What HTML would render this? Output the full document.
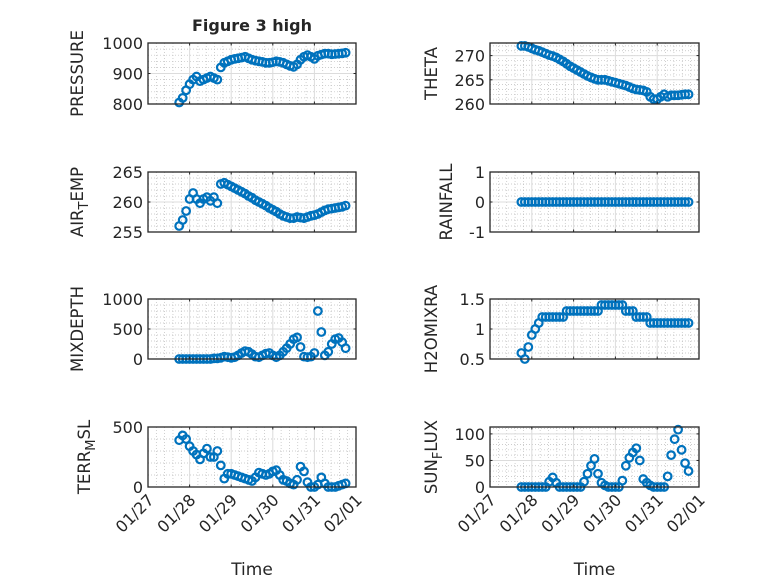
<!DOCTYPE html>
<html><head><meta charset="utf-8"><style>
html,body{margin:0;padding:0;background:#fff;width:778px;height:583px;overflow:hidden}
svg text{font-family:"DejaVu Sans","Liberation Sans",sans-serif;fill:#262626}
</style></head><body>
<svg id="fig" width="778" height="583" viewBox="0 0 778 583" xmlns="http://www.w3.org/2000/svg">
<rect width="778" height="583" fill="#fff"/>
<text x="252" y="31" text-anchor="middle" font-size="16" font-weight="bold">Figure 3 high</text>
</svg>
<script>
const xTickLabels=["01/27","01/28","01/29","01/30","01/31","02/01"];
const tStart=0.75, tStep=1/12;
const pressure=[805,820,845,865,880,890,875,880,885,890,885,880,920,935,940,945,948,950,952,955,950,945,942,940,938,935,935,937,940,938,935,930,925,922,930,945,955,960,955,948,958,962,965,965,963,964,965,966,968];
const theta=[272,272,271.8,271.5,271.2,271,270.7,270.4,270.1,269.9,269.6,269.2,268.8,268.3,267.8,267.4,267,266.6,266.2,265.8,265.5,265.2,265,265,265,264.8,264.6,264.4,264.2,264,263.8,263.5,263.2,263,262.9,262.8,262.5,261.5,261,261,261.5,262,261.5,261.8,261.8,261.8,261.9,262,262];
const airTemp=[256,257,258.5,260.5,261.5,260.5,259.8,260.5,260.8,260.2,260.8,259.8,263,263.2,262.9,262.6,262.3,262,261.7,261.4,261,260.7,260.3,260,259.7,259.4,259,258.7,258.4,258,257.7,257.5,257.3,257.3,257.5,257.4,257.3,257.5,257.7,257.8,258,258.3,258.6,258.8,258.9,259,259.1,259.2,259.4];
const rainfall=[0,0,0,0,0,0,0,0,0,0,0,0,0,0,0,0,0,0,0,0,0,0,0,0,0,0,0,0,0,0,0,0,0,0,0,0,0,0,0,0,0,0,0,0,0,0,0,0,0];
const mixDepth=[0,0,0,0,0,0,0,0,0,0,10,10,20,40,30,20,30,60,100,130,120,80,40,30,60,90,100,60,30,60,120,180,250,330,360,200,40,30,40,100,800,450,60,120,250,330,350,280,180];
const h2oMix=[0.6,0.5,0.7,0.9,1.0,1.1,1.2,1.2,1.2,1.2,1.2,1.2,1.2,1.3,1.3,1.3,1.3,1.3,1.3,1.3,1.3,1.3,1.3,1.4,1.4,1.4,1.4,1.4,1.4,1.4,1.3,1.3,1.3,1.2,1.2,1.2,1.2,1.1,1.1,1.1,1.1,1.1,1.1,1.1,1.1,1.1,1.1,1.1,1.1];
const terrMsl=[390,430,400,340,300,270,230,280,320,250,250,300,180,70,110,110,100,90,80,70,60,50,80,120,110,100,110,130,140,100,60,50,30,20,60,170,130,40,0,0,20,80,30,0,0,0,10,20,30];
const sunFlux=[0,0,0,0,0,0,0,0,10,18,8,0,0,0,0,0,0,0,10,25,40,53,25,8,3,0,0,0,0,12,40,55,65,73,50,15,8,3,0,0,0,0,20,60,90,108,70,45,30];

const NS="http://www.w3.org/2000/svg";
const svg=document.getElementById('fig');
function el(tag,attrs,parent){const e=document.createElementNS(NS,tag);for(const k in attrs)e.setAttribute(k,attrs[k]);(parent||svg).appendChild(e);return e;}

const panels=[
 {name:"pressure",data:pressure,x0:148,x1:356,y0:43,y1:104,ymin:800,ymax:1000,ticks:[800,900,1000],labels:["800","900","1000"],lab:["PRESSURE"],lx:83,bottom:false},
 {name:"theta",data:theta,x0:490,x1:699,y0:43,y1:104,ymin:260,ymax:272.6,ticks:[260,265,270],labels:["260","265","270"],lab:["THETA"],lx:437,bottom:false},
 {name:"air-temp",data:airTemp,x0:148,x1:356,y0:172,y1:232,ymin:255,ymax:265,ticks:[255,260,265],labels:["255","260","265"],lab:["AIR","T","EMP"],lx:83,bottom:false},
 {name:"rainfall",data:rainfall,x0:490,x1:699,y0:172,y1:232,ymin:-1,ymax:1,ticks:[-1,0,1],labels:["-1","0","1"],lab:["RAINFALL"],lx:452,bottom:false},
 {name:"mix-depth",data:mixDepth,x0:148,x1:356,y0:299,y1:359,ymin:0,ymax:1000,ticks:[0,500,1000],labels:["0","500","1000"],lab:["MIXDEPTH"],lx:83,bottom:false},
 {name:"h2o-mix",data:h2oMix,x0:490,x1:699,y0:299,y1:359,ymin:0.5,ymax:1.5,ticks:[0.5,1,1.5],labels:["0.5","1","1.5"],lab:["H2OMIXRA"],lx:437,bottom:false},
 {name:"terr-msl",data:terrMsl,x0:148,x1:356,y0:427,y1:487,ymin:0,ymax:500,ticks:[0,500],labels:["0","500"],lab:["TERR","M","SL"],lx:90,bottom:true},
 {name:"sun-flux",data:sunFlux,x0:490,x1:699,y0:427,y1:487,ymin:0,ymax:113,ticks:[0,50,100],labels:["0","50","100"],lab:["SUN","F","LUX"],lx:437,bottom:true}
];

panels.forEach(p=>{
 const g=el('g',{});
 
 
 const xs=d=>p.x0+(d/5)*(p.x1-p.x0);
 const ys=v=>p.y1-(v-p.ymin)/(p.ymax-p.ymin)*(p.y1-p.y0);
 for(let d=0;d<5;d+=0.2){if(Math.abs(d-Math.round(d))<1e-6)continue;const x=xs(d);el('line',{x1:x,x2:x,y1:p.y0,y2:p.y1,stroke:'#bdbdbd','stroke-width':0.7,'stroke-dasharray':'1,2'},g);}
 const step=p.ticks[1]-p.ticks[0];
 for(let v=p.ticks[0]-step;v<=p.ymax;v+=step/5){if(v<p.ymin+1e-9)continue;const y=ys(v);el('line',{x1:p.x0,x2:p.x1,y1:y,y2:y,stroke:'#bdbdbd','stroke-width':0.7,'stroke-dasharray':'1,2'},g);}
 for(let d=1;d<5;d++){const x=xs(d);el('line',{x1:x,x2:x,y1:p.y0,y2:p.y1,stroke:'#dcdcdc','stroke-width':1},g);}
 p.ticks.forEach(v=>{const y=ys(v);el('line',{x1:p.x0,x2:p.x1,y1:y,y2:y,stroke:'#dcdcdc','stroke-width':1},g);});
 p.data.forEach((v,i)=>{const c=el('circle',{cx:xs(tStart+i*tStep),cy:ys(v),r:3.8,fill:'none',stroke:'#0072BD','stroke-width':2.2},g);
  
  });
 el('rect',{x:p.x0,y:p.y0,width:p.x1-p.x0,height:p.y1-p.y0,fill:'none',stroke:'#262626','stroke-width':1.3},g);
 for(let d=0;d<=5;d++){const x=xs(d);el('line',{x1:x,x2:x,y1:p.y1,y2:p.y1-2.5,stroke:'#262626'},g);el('line',{x1:x,x2:x,y1:p.y0,y2:p.y0+2.5,stroke:'#262626'},g);}
 p.ticks.forEach((v,i)=>{const y=ys(v);el('line',{x1:p.x0,x2:p.x0+2.5,y1:y,y2:y,stroke:'#262626'},g);el('line',{x1:p.x1,x2:p.x1-2.5,y1:y,y2:y,stroke:'#262626'},g);
  const t=el('text',{x:p.x0-5,y:y+6,'text-anchor':'end','font-size':16},g);t.textContent=p.labels[i];
  
  });
 const cy=(p.y0+p.y1)/2;
 const yl=el('text',{x:0,y:0,'text-anchor':'middle','font-size':16.5,transform:`translate(${p.lx},${cy}) rotate(-90)`},g);
 
 
 if(p.lab.length===1){yl.textContent=p.lab[0];}
 else{const a=el('tspan',{},yl);a.textContent=p.lab[0];const b=el('tspan',{dy:5,'font-size':13},yl);b.textContent=p.lab[1];const c=el('tspan',{dy:-5},yl);c.textContent=p.lab[2];}
 if(p.bottom){
  xTickLabels.forEach((s,d)=>{const x=xs(d);const t=el('text',{x:0,y:0,'text-anchor':'end','font-size':16,transform:`translate(${x+7},${p.y1+14}) rotate(-45)`},g);t.textContent=s;
   
   });
  const xt=el('text',{x:(p.x0+p.x1)/2,y:575,'text-anchor':'middle','font-size':17},g);xt.textContent='Time';
  
  
 }
});
</script>
</body></html>
